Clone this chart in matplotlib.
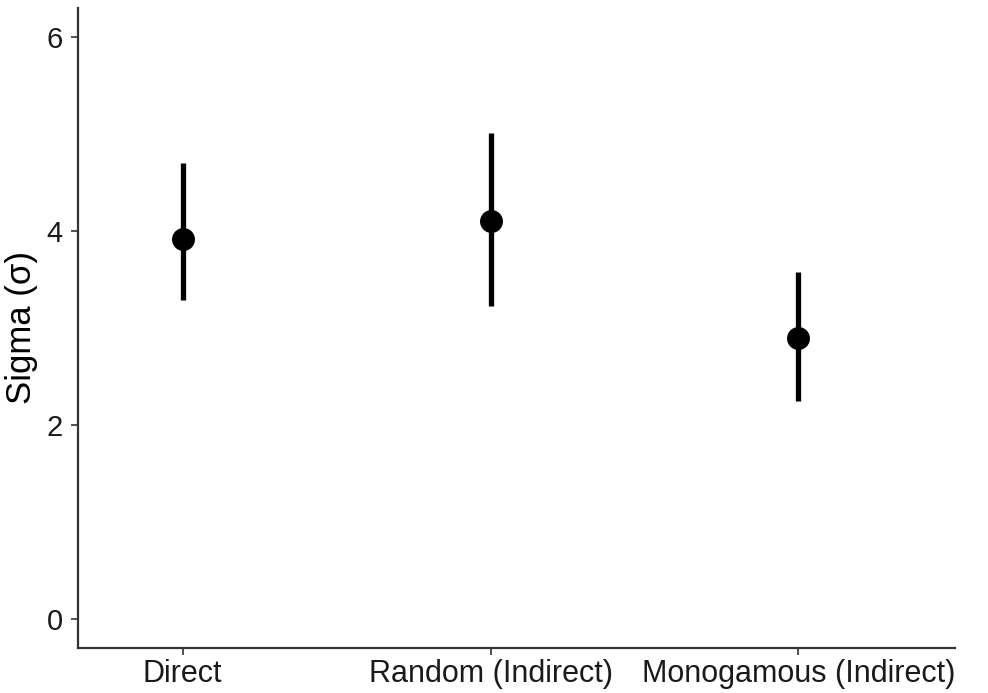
import matplotlib
matplotlib.use("Agg")
import matplotlib.pyplot as plt

categories = ["Direct", "Random (Indirect)", "Monogamous (Indirect)"]
sigma = [3.92, 4.10, 2.89]
lower = [3.29, 3.22, 2.25]
upper = [4.70, 5.01, 3.57]
yticks = [0, 2, 4, 6]

plt.rcParams['font.family'] = ['Liberation Sans', 'DejaVu Sans']

fig = plt.figure(figsize=(9.88, 6.93), dpi=100)
ax = fig.add_axes([0.079, 0.065, 0.888, 0.924])

x = list(range(1, len(categories) + 1))
for xi, lo, hi in zip(x, lower, upper):
    ax.plot([xi, xi], [lo, hi], color='black', lw=3.8, solid_capstyle='butt', zorder=2)
ax.plot(x, sigma, 'o', color='black', markersize=15.5, zorder=3)

ax.set_xlim(0.66, 3.51)
ax.set_ylim(-0.3, 6.3)
ax.set_xticks(x)
ax.set_xticklabels(categories)
ax.set_yticks(yticks)
ax.tick_params(axis='both', colors='#333333', length=5, width=1.2,
               labelcolor='#1a1a1a', pad=6)
ax.tick_params(axis='x', labelsize=22, pad=3)
ax.tick_params(axis='y', labelsize=21)
ax.set_ylabel("Sigma (σ)", fontsize=25, color='black', labelpad=6)

for s in ['top', 'right']:
    ax.spines[s].set_visible(False)
for s in ['left', 'bottom']:
    ax.spines[s].set_linewidth(1.6)
    ax.spines[s].set_color('#333333')

fig.savefig("out.png", dpi=100)
